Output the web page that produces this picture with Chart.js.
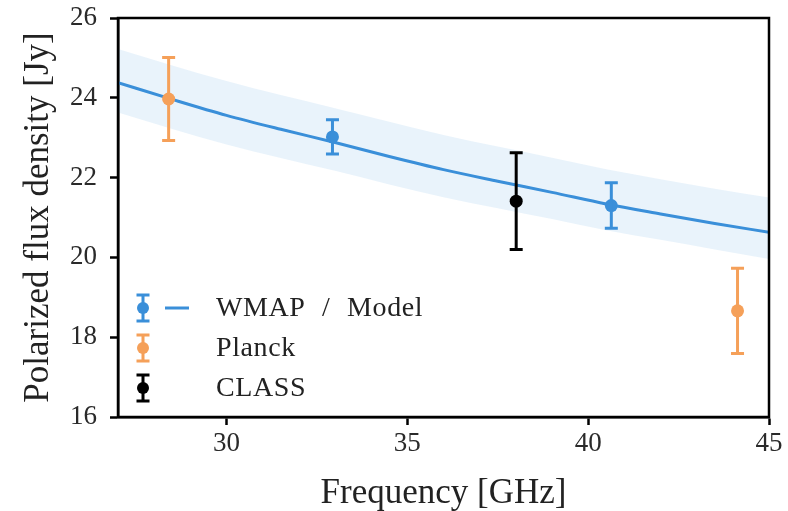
<!DOCTYPE html>
<html>
<head>
<meta charset="utf-8">
<script src="https://cdn.jsdelivr.net/npm/chart.js@4.4.1/dist/chart.umd.min.js"></script>
<style>
  html, body { margin: 0; padding: 0; background: #fff; }
</style>
</head>
<body>
<canvas id="fluxChart" width="788" height="511"></canvas>
<script>
// model curve and its uncertainty band, sampled along frequency (GHz)
var modelFreq = [27, 28.5, 30, 31.5, 33, 34.5, 36, 37.5, 39, 40.5, 42, 43.5, 45];
var modelFlux = [24.38, 23.96, 23.56, 23.21, 22.88, 22.53, 22.2, 21.91, 21.63, 21.34, 21.09, 20.85, 20.63];
var bandHigh = [25.22, 24.81, 24.42, 24.07, 23.74, 23.40, 23.07, 22.78, 22.50, 22.21, 21.96, 21.72, 21.50];
var bandLow = [23.63, 23.22, 22.83, 22.49, 22.17, 21.83, 21.51, 21.23, 20.96, 20.68, 20.44, 20.20, 19.96];

// measurements (Jy) with 1-sigma errors
var wmapFreq = [32.93, 40.64];
var wmapFlux = [23.02, 21.3];
var wmapErr = [0.43, 0.57];

var planckFreq = [28.4, 44.13];
var planckFlux = [23.97, 18.66];
var planckErr = [1.04, 1.07];

var classFreq = [38.01];
var classFlux = [21.41];
var classErr = [1.21];

var xTicks = [30, 35, 40, 45];
var yTicks = [16, 18, 20, 22, 24, 26];

var BLUE = "#3a8fd9";
var ORANGE = "#f5a059";
var BLACK = "#000000";
var SERIF = "'Liberation Serif', 'DejaVu Serif', serif";

function toPoints(xs, ys) {
	return xs.map(function (x, i) {
		return { x: x, y: ys[i] };
	});
}

function drawBar(ctx, px, top, bot, cap) {
	ctx.beginPath();
	ctx.moveTo(px, top);
	ctx.lineTo(px, bot);
	ctx.moveTo(px - cap, top);
	ctx.lineTo(px + cap, top);
	ctx.moveTo(px - cap, bot);
	ctx.lineTo(px + cap, bot);
	ctx.stroke();
}

// vertical error bars with caps, plus the box frame and the legend
const errorBarPlugin = {
	id: "errorBars",
	afterDatasetsDraw(chart) {
		const ctx = chart.ctx;
		const xs = chart.scales.x;
		const ys = chart.scales.y;
		chart.data.datasets.forEach(function (ds) {
			if (!ds.errors) return;
			ctx.save();
			ctx.strokeStyle = ds.borderColor;
			ctx.lineWidth = 3;
			ds.data.forEach(function (p, i) {
				const px = xs.getPixelForValue(p.x);
				const top = ys.getPixelForValue(p.y + ds.errors[i]);
				const bot = ys.getPixelForValue(p.y - ds.errors[i]);
				drawBar(ctx, px, top, bot, 6.5);
			});
			ctx.restore();
		});
	},
	afterDraw(chart) {
		const ctx = chart.ctx;
		const a = chart.chartArea;
		ctx.save();
		ctx.strokeStyle = "#000";
		ctx.lineWidth = 2.5;
		ctx.strokeRect(a.left, a.top, a.right - a.left, a.bottom - a.top);

		const rows = [
			{ label: "WMAP / Model", color: BLUE, line: true, y: 308 },
			{ label: "Planck", color: ORANGE, line: false, y: 348 },
			{ label: "CLASS", color: BLACK, line: false, y: 388 },
		];
		const mx = 143;
		rows.forEach(function (r) {
			ctx.strokeStyle = r.color;
			ctx.fillStyle = r.color;
			ctx.lineWidth = 3;
			drawBar(ctx, mx, r.y - 13, r.y + 13, 6.5);
			ctx.beginPath();
			ctx.arc(mx, r.y, 6, 0, Math.PI * 2);
			ctx.fill();
			if (r.line) {
				ctx.lineWidth = 3;
				ctx.beginPath();
				ctx.moveTo(165, r.y);
				ctx.lineTo(189, r.y);
				ctx.stroke();
			}
			ctx.fillStyle = "#222";
			ctx.font = "28px " + SERIF;
			ctx.letterSpacing = "0.6px";
			ctx.wordSpacing = "9px";
			ctx.textBaseline = "middle";
			ctx.textAlign = "left";
			ctx.fillText(r.label, 216, r.y + 1);
		});
		ctx.restore();
	},
};

const data = {
	datasets: [
		{
			label: "band high",
			data: toPoints(modelFreq, bandHigh),
			showLine: true,
			pointRadius: 0,
			borderWidth: 0,
			borderColor: "rgba(0,0,0,0)",
			backgroundColor: "rgba(58,143,217,0.11)",
			cubicInterpolationMode: "monotone",
			fill: "+1",
			order: 3,
		},
		{
			label: "band low",
			data: toPoints(modelFreq, bandLow),
			showLine: true,
			pointRadius: 0,
			borderWidth: 0,
			borderColor: "rgba(0,0,0,0)",
			cubicInterpolationMode: "monotone",
			fill: false,
			order: 4,
		},
		{
			label: "Model",
			data: toPoints(modelFreq, modelFlux),
			showLine: true,
			pointRadius: 0,
			borderWidth: 3,
			borderColor: BLUE,
			cubicInterpolationMode: "monotone",
			fill: false,
			order: 2,
		},
		{
			label: "WMAP",
			data: toPoints(wmapFreq, wmapFlux),
			errors: wmapErr,
			pointRadius: 6.5,
			borderWidth: 0,
			borderColor: BLUE,
			backgroundColor: BLUE,
			order: 1,
		},
		{
			label: "Planck",
			data: toPoints(planckFreq, planckFlux),
			errors: planckErr,
			pointRadius: 6.5,
			borderWidth: 0,
			borderColor: ORANGE,
			backgroundColor: ORANGE,
			order: 1,
		},
		{
			label: "CLASS",
			data: toPoints(classFreq, classFlux),
			errors: classErr,
			pointRadius: 6.5,
			borderWidth: 0,
			borderColor: BLACK,
			backgroundColor: BLACK,
			order: 0,
		},
	],
};

const config = {
	type: "scatter",
	data: data,
	plugins: [errorBarPlugin],
	options: {
		responsive: false,
		animation: false,
		devicePixelRatio: 1,
		layout: { padding: { top: 18, right: 19, left: 0, bottom: 0 } },
		plugins: {
			legend: { display: false },
			tooltip: { enabled: false },
		},
		scales: {
			x: {
				type: "linear",
				min: 27,
				max: 45,
				afterBuildTicks: function (scale) {
					scale.ticks = xTicks.map(function (v) { return { value: v }; });
				},
				afterFit: function (scale) {
					scale.height = 94;
					scale.paddingLeft = 0;
					scale.paddingRight = 0;
				},
				grid: { drawOnChartArea: false, drawTicks: true, tickLength: 8, tickWidth: 2.5, tickColor: "#000" },
				border: { display: true, color: "#000", width: 2.5 },
				ticks: { color: "#2a2a2a", padding: 3, font: { family: SERIF, size: 27 } },
				title: {
					display: true,
					text: "Frequency [GHz]",
					color: "#222",
					padding: { top: 0, bottom: 0 },
					font: { family: SERIF, size: 35, lineHeight: 1 },
				},
			},
			y: {
				type: "linear",
				min: 16,
				max: 26,
				afterBuildTicks: function (scale) {
					scale.ticks = yTicks.map(function (v) { return { value: v }; });
				},
				afterFit: function (scale) {
					scale.width = 118;
					scale.paddingTop = 0;
					scale.paddingBottom = 0;
				},
				grid: { drawOnChartArea: false, drawTicks: true, tickLength: 8, tickWidth: 2.5, tickColor: "#000" },
				border: { display: true, color: "#000", width: 2.5 },
				ticks: { color: "#2a2a2a", padding: 13, font: { family: SERIF, size: 27 } },
				title: {
					display: true,
					text: "Polarized flux density [Jy]",
					color: "#222",
					padding: { top: 21, bottom: 0 },
					font: { family: SERIF, size: 35, lineHeight: 1 },
				},
			},
		},
	},
};

const fluxChart = new Chart(document.getElementById("fluxChart"), config);
</script>
</body>
</html>
